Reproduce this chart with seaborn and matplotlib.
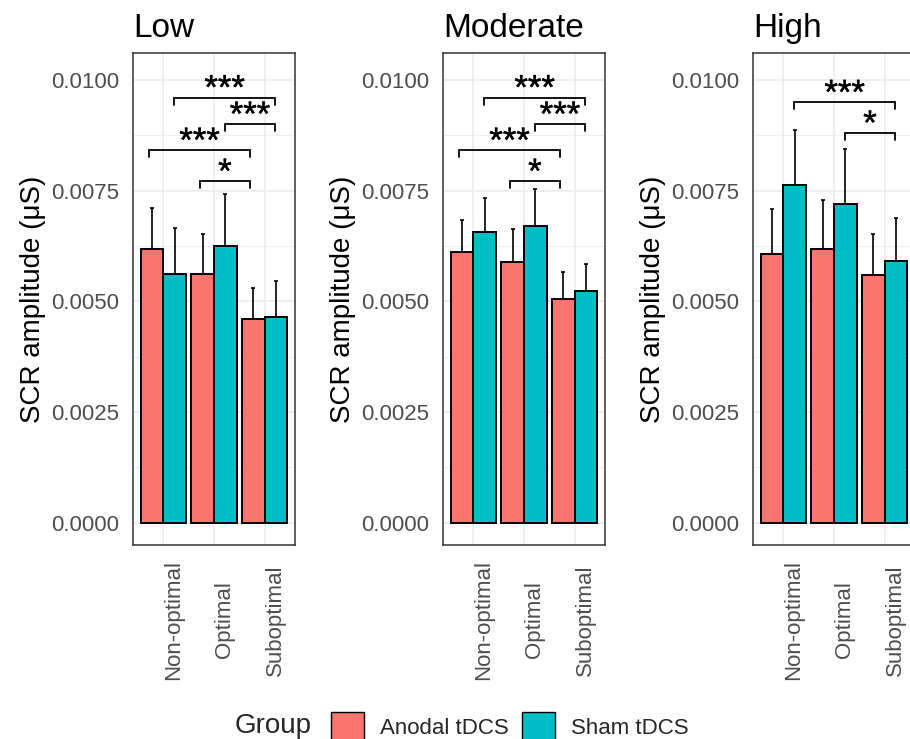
import matplotlib
matplotlib.use("Agg")
import matplotlib.pyplot as plt
import matplotlib.patheffects as pe
import numpy as np
import pandas as pd
import seaborn as sns
from matplotlib.patches import Patch
from matplotlib.ticker import MultipleLocator, FormatStrFormatter

# ---------------- data ----------------
panels = ["Low", "Moderate", "High"]
conditions = ["Non-optimal", "Optimal", "Suboptimal"]
groups = ["Anodal tDCS", "Sham tDCS"]
colors = ["#F8766D", "#00BFC4"]

low_anodal_mean = [0.00618, 0.00561, 0.00459]
low_anodal_upper = [0.00711, 0.00651, 0.00529]
low_sham_mean = [0.00562, 0.00625, 0.00464]
low_sham_upper = [0.00665, 0.00743, 0.00545]

mod_anodal_mean = [0.00612, 0.00588, 0.00506]
mod_anodal_upper = [0.00683, 0.00662, 0.00565]
mod_sham_mean = [0.00656, 0.00670, 0.00522]
mod_sham_upper = [0.00733, 0.00753, 0.00584]

high_anodal_mean = [0.00607, 0.00618, 0.00560]
high_anodal_upper = [0.00708, 0.00728, 0.00652]
high_sham_mean = [0.00763, 0.00719, 0.00590]
high_sham_upper = [0.00886, 0.00843, 0.00687]

y_ticks = [0.0, 0.0025, 0.0050, 0.0075, 0.0100]

# significance brackets: (from condition, to condition, group, y, label)
low_brackets = [
    ("Non-optimal", "Suboptimal", "Sham tDCS", 0.00960, "***"),
    ("Optimal", "Suboptimal", "Sham tDCS", 0.00900, "***"),
    ("Non-optimal", "Suboptimal", "Anodal tDCS", 0.00841, "***"),
    ("Optimal", "Suboptimal", "Anodal tDCS", 0.00771, "*"),
]
mod_brackets = [
    ("Non-optimal", "Suboptimal", "Sham tDCS", 0.00960, "***"),
    ("Optimal", "Suboptimal", "Sham tDCS", 0.00900, "***"),
    ("Non-optimal", "Suboptimal", "Anodal tDCS", 0.00841, "***"),
    ("Optimal", "Suboptimal", "Anodal tDCS", 0.00771, "*"),
]
high_brackets = [
    ("Non-optimal", "Suboptimal", "Sham tDCS", 0.00949, "***"),
    ("Optimal", "Suboptimal", "Sham tDCS", 0.00880, "*"),
]
bracket_offset = {"Anodal tDCS": -0.285, "Sham tDCS": 0.21}
tip_length = 0.00016

panel_data = {
    "Low": (low_anodal_mean, low_anodal_upper, low_sham_mean, low_sham_upper, low_brackets),
    "Moderate": (mod_anodal_mean, mod_anodal_upper, mod_sham_mean, mod_sham_upper, mod_brackets),
    "High": (high_anodal_mean, high_anodal_upper, high_sham_mean, high_sham_upper, high_brackets),
}

rows = []
for p in panels:
    am, au, sm, su, _ = panel_data[p]
    for i, c in enumerate(conditions):
        rows.append(dict(Panel=p, Condition=c, Group=groups[0], Mean=am[i], Upper=au[i]))
        rows.append(dict(Panel=p, Condition=c, Group=groups[1], Mean=sm[i], Upper=su[i]))
df = pd.DataFrame(rows)

# ---------------- style ----------------
sns.set_style("white")
plt.rcParams["font.family"] = ["Liberation Sans", "DejaVu Sans"]

W, H = 910, 739
fig = plt.figure(figsize=(W / 100, H / 100), dpi=100)

ax_left_px = [133, 443, 753]
ax_w_px, ax_top_px, ax_bot_px = 162, 53, 545

border = "#333333"
grid_c = "#EBEBEB"
tick_txt = "#4D4D4D"

for k, p in enumerate(panels):
    ax = fig.add_axes([ax_left_px[k] / W, (H - ax_bot_px) / H,
                       ax_w_px / W, (ax_bot_px - ax_top_px) / H])
    sub = df[df["Panel"] == p]
    sns.barplot(data=sub, x="Condition", y="Mean", hue="Group",
                order=conditions, hue_order=groups, palette=colors,
                width=0.9, gap=0, saturation=1, edgecolor="black",
                linewidth=1.4, errorbar=None, legend=False, ax=ax, zorder=3)

    # error bars (upper only) from bar patches
    bars = sorted([b for b in ax.patches], key=lambda b: b.get_x())
    keys = [(c, g) for c in conditions for g in groups]
    for b, (c, g) in zip(bars, keys):
        row = sub[(sub["Condition"] == c) & (sub["Group"] == g)].iloc[0]
        xc = b.get_x() + b.get_width() / 2
        ax.errorbar(xc, row["Upper"], yerr=[[row["Upper"] - row["Mean"]], [0]],
                    fmt="none", ecolor="black", elinewidth=1.2, capsize=1.6,
                    capthick=1.2, zorder=2)

    # brackets
    for c1, c2, g, yv, lab in panel_data[p][4]:
        x1 = conditions.index(c1) + bracket_offset[g]
        x2 = conditions.index(c2) + bracket_offset[g]
        ax.plot([x1, x1, x2, x2], [yv - tip_length, yv, yv, yv - tip_length],
                color="black", linewidth=1.3, zorder=4, solid_joinstyle="miter")
        ax.annotate(lab, xy=((x1 + x2) / 2, yv), xytext=(0, -1.0),
                    textcoords="offset points", ha="center", va="baseline",
                    fontsize=25, color="black",
                    path_effects=[pe.withStroke(linewidth=0.3, foreground="black")])

    ax.set_xlim(-0.6, 2.6)
    ax.set_ylim(-0.000505, 0.010605)
    ax.set_yticks(y_ticks)
    ax.yaxis.set_major_formatter(FormatStrFormatter("%.4f"))
    ax.yaxis.set_minor_locator(MultipleLocator(0.00125))
    ax.set_xticks(range(len(conditions)), conditions, rotation=90,
                  ha="left", va="center")
    ax.tick_params(axis="x", pad=49)
    ax.tick_params(which="major", direction="out", length=5, width=1.1,
                   color=border, labelsize=16, labelcolor=tick_txt)
    ax.tick_params(axis="y", which="major", pad=5)
    ax.tick_params(which="minor", length=0)
    ax.set_axisbelow(True)
    ax.grid(which="major", color=grid_c, linewidth=1.1, zorder=0)
    ax.grid(which="minor", axis="y", color=grid_c, linewidth=0.55, zorder=0)
    for s in ax.spines.values():
        s.set_visible(True)
        s.set_color(border)
        s.set_linewidth(1.1)
    ax.set_xlabel("")
    ax.set_ylabel("SCR amplitude (μS)", fontsize=20, labelpad=3.5, color="black")
    ax.set_title(p, loc="left", fontsize=24, pad=11.5, color="black")

# ---------------- legend ----------------
fig.text(235 / W, (H - 733) / H, "Group", fontsize=20, ha="left", va="baseline")
handles = [Patch(facecolor=colors[i], edgecolor="black", linewidth=1.0) for i in range(2)]
fig.legend(handles, groups, loc="center left", bbox_to_anchor=(331 / W, (H - 727) / H),
           ncol=2, frameon=False, fontsize=16, handlelength=1.49, handleheight=1.7,
           handletextpad=0.72, columnspacing=0.6, borderpad=0, borderaxespad=0)

fig.savefig("out.png", dpi=100)
